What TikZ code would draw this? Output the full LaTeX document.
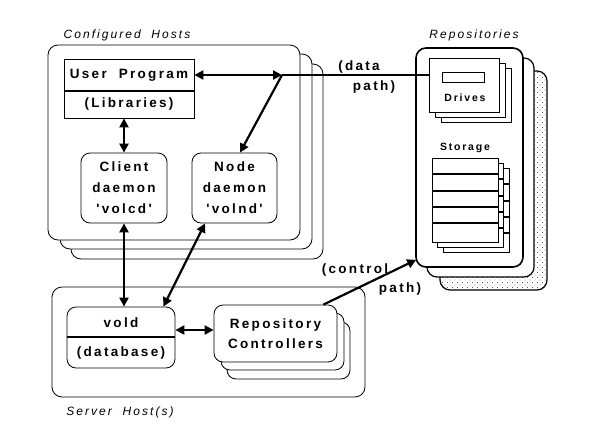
\documentclass[tikz,border=0pt]{standalone}
\usepackage{fontspec}
\setmainfont{Liberation Sans}
\newfontfamily\boxfont[LetterSpace=17]{Liberation Sans}
\usetikzlibrary{arrows.meta,patterns,calc}
\pgfdeclarepatternformonly{sparse dots}{\pgfqpoint{-.5pt}{-.5pt}}{\pgfqpoint{3pt}{3pt}}{\pgfqpoint{5pt}{5pt}}{%
	\pgfpathcircle{\pgfqpoint{0pt}{0pt}}{.45pt}%
	\pgfpathcircle{\pgfqpoint{2.5pt}{2.5pt}}{.45pt}%
	\pgfusepath{fill}}
\tikzset{%
	hostbox/.style={draw, rounded corners=10pt, fill=white, line width=.8pt, inner sep=0pt},
	procbox/.style={draw, rounded corners=9pt, fill=white, line width=.8pt, inner sep=0pt, align=center},
	plainbox/.style={draw, fill=white, line width=.8pt, inner sep=0pt},
	repobox/.style={draw, rounded corners=10pt, fill=white, line width=1.6pt, inner sep=0pt},
	lbl/.style={font=\boxfont\bfseries\fontsize{13.5}{21}\selectfont, align=center, inner sep=0pt},
	smalllbl/.style={font=\boxfont\bfseries\fontsize{10.5}{12}\selectfont, inner sep=0pt},
	grouplbl/.style={font=\boxfont\itshape\fontsize{12}{14}\selectfont, inner sep=0pt},
	link/.style={line width=2.2pt, >={Triangle[length=9pt,width=9pt]}}
}
\begin{document}
\begin{tikzpicture}[x=1pt,y=-1pt]
	\useasboundingbox (0,0) rectangle (597,445);
	
	% configured hosts
	\foreach \dx/\dy in {23/19,12/9}
		\draw[hostbox] (48+\dx,45+\dy) rectangle (300+\dx,240+\dy);
	\node[hostbox, minimum width=252pt, minimum height=195pt] (hosts) at (174,142.5) {};
	\node[grouplbl] (hostslbl) at (127,35) {Configured\ \ Hosts};
	
	\node[plainbox, minimum width=130pt, minimum height=59pt] (user) at (129,88.5) {};
	\draw[line width=1.6pt] (64,91) -- (194,91);
	\node[lbl] (userlbl) at (129,75) {User\ \ Program};
	\node[lbl] (libs) at (129,104) {(Libraries)};
	
	\node[procbox, lbl, minimum width=86pt, minimum height=70pt] (client) at (124,188) {Client\\daemon\\'volcd'};
	\node[procbox, lbl, minimum width=85pt, minimum height=70pt] (noded) at (234.5,188) {Node\\daemon\\'volnd'};
	
	% server host
	\node[hostbox, minimum width=313pt, minimum height=110pt] (server) at (208.5,342) {};
	\node[grouplbl] (serverlbl) at (120,412) {Server\ \ Host(s)};
	
	\node[procbox, minimum width=108pt, minimum height=61pt] (vold) at (121,337.5) {};
	\draw[line width=1.6pt] (67,337) -- (175,337);
	\node[lbl] (voldlbl) at (121,323) {vold};
	\node[lbl] (dblbl) at (121,353) {(database)};
	
	\foreach \dx/\dy in {13/17,7/8}
		\draw[procbox] (214+\dx,305+\dy) rectangle (337+\dx,362+\dy);
	\node[procbox, lbl, font=\boxfont\bfseries\fontsize{13.5}{20}\selectfont, minimum width=123pt, minimum height=57pt] (ctrl) at (275.5,333.5) {Repository\\Controllers};
	
	% repositories
	\draw[repobox, line width=1.2pt, pattern=sparse dots] (440,71) rectangle (547,290);
	\draw[repobox, line width=1.2pt] (427,58) rectangle (534,277);
	\node[repobox, minimum width=107pt, minimum height=219pt] (repo) at (469.5,157.5) {};
	\node[grouplbl] (repolbl) at (474,35) {Repositories};
	
	\foreach \d/\e in {12/10,6/5}
		\draw[plainbox] (429+\d,58+\e) rectangle (499+\d,112+\e);
	\node[plainbox, minimum width=70pt, minimum height=54pt] (drives) at (464,85) {};
	\draw[line width=.8pt] (442,72) rectangle (484,82);
	\node[smalllbl] (driveslbl) at (465,98) {Drives};
	
	\node[smalllbl] (storelbl) at (465,148) {Storage};
	\foreach \d/\e in {11/10,5/5} {
		\draw[plainbox] (432+\d,158+\e) rectangle (498+\d,242+\e);
		\foreach \s in {16,33,49,65}
			\draw[line width=1.6pt] (432+\d,158+\e+\s) -- (498+\d,158+\e+\s);
	}
	\node[plainbox, minimum width=66pt, minimum height=84pt] (store) at (465,200) {};
	\foreach \s in {16,33,49,65}
		\draw[line width=1.6pt] (432,158+\s) -- (498,158+\s);
	
	% data and control paths
	\coordinate (junc) at (282,75);
	\draw[link,<->] (user.east |- junc) -- (junc);
	\draw[link] (junc) -- (drives.west |- junc);
	\draw[link,->] (junc) -- ([xshift=5.5pt]noded.north);
	\draw[link,<->] (user.south -| client.north) -- (client.north);
	\draw[link,<->] (client.south) -- (client.south |- vold.north);
	\draw[link,<->] ([xshift=-29.5pt]noded.south) -- ([xshift=-12pt]vold.north east);
	\draw[link,<->] ([yshift=7.5pt]vold.east) -- ([yshift=7.5pt]vold.east -| ctrl.west);
	\draw[link,->] ([xshift=-14pt]ctrl.north east) -- ([xshift=1pt,yshift=8pt]repo.south west);
	
	\node[lbl] (datalbl) at (359,67) {(data};
	\node[lbl] (datalbl2) at (374,87) {path)};
	\node[lbl] (ctrllbl) at (355,270) {(control};
	\node[lbl] (ctrllbl2) at (400,289) {path)};
\end{tikzpicture}
\end{document}
